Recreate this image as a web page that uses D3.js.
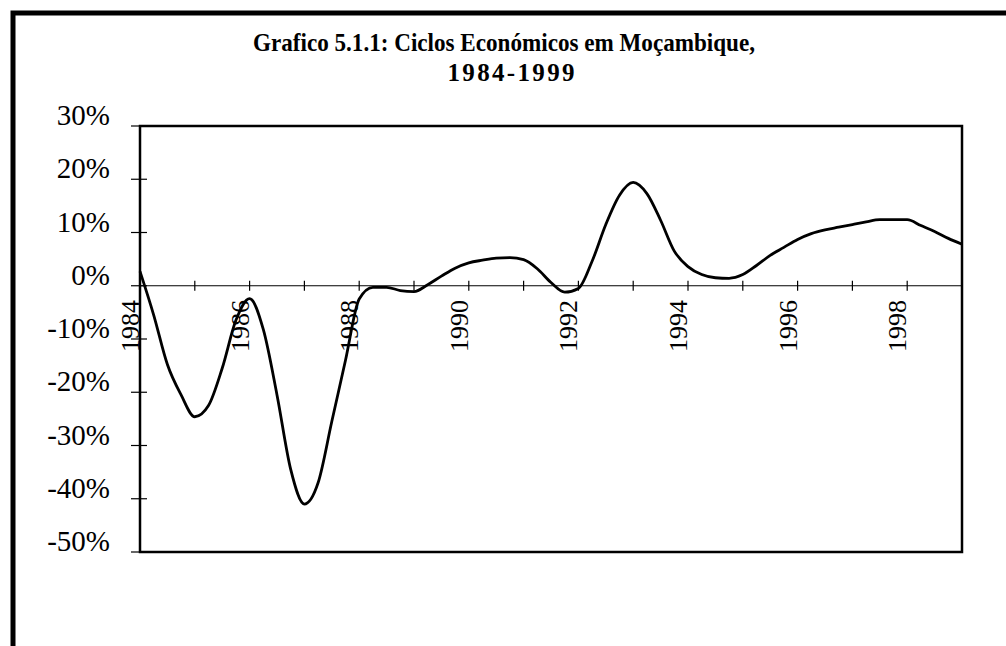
<!DOCTYPE html>
<html>
<head>
<meta charset="utf-8">
<script src="https://cdn.jsdelivr.net/npm/d3@7"></script>
<style>
  body { margin: 0; background: #fff; }
  svg { display: block; }
  svg text { font-family: "Liberation Serif", "DejaVu Serif", serif; }
</style>
</head>
<body>
<div id="chart"></div>
<script>
// quarterly cycle values (%), 1984Q1 .. 1999Q1
const cycleValues = [
  2.7, -5.5, -14.8, -20.5, -24.6, -22.5, -15.5, -6.5,
  -2.4, -8.2, -20.5, -34.5, -41.0, -37.0, -25.5, -14.0,
  -2.5, -0.3, -0.3, -0.9, -1.1, 0.2, 1.8, 3.3,
  4.3, 4.8, 5.2, 5.3, 4.9, 3.2, 0.6, -1.2,
  -0.5, 4.6, 11.5, 17.0, 19.4, 17.3, 12.3, 6.5,
  3.6, 2.1, 1.5, 1.4, 2.1, 3.8, 5.7, 7.2,
  8.7, 9.8, 10.5, 11.0, 11.5, 12.0, 12.4, 12.4,
  12.4, 11.3, 10.2, 8.9, 7.8
];
const startYear = 1984;
const endYear = 1999;
const yearLabels = [1984, 1986, 1988, 1990, 1992, 1994, 1996, 1998];
const yTicks = [30, 20, 10, 0, -10, -20, -30, -40, -50];
const titleLines = ["Grafico 5.1.1: Ciclos Económicos em Moçambique,", "1984-1999"];

const width = 1006, height = 646;
const plot = {left: 140, right: 962, top: 126, bottom: 552};
const serif = '"Liberation Serif", "DejaVu Serif", serif';

const svg = d3.select('#chart').append('svg')
  .attr('width', width)
  .attr('height', height);

// outer frame
svg.append('rect')
  .attr('x', 13).attr('y', 13)
  .attr('width', 1100).attr('height', 800)
  .attr('fill', 'none')
  .attr('stroke', '#000')
  .attr('stroke-width', 5);

// title
svg.append('text')
  .attr('x', 504).attr('y', 51)
  .attr('text-anchor', 'middle')
  .attr('font-family', serif)
  .attr('font-weight', 'bold')
  .attr('font-size', 26)
  .attr('textLength', 502)
  .attr('lengthAdjust', 'spacingAndGlyphs')
  .text(titleLines[0]);
svg.append('text')
  .attr('x', 511).attr('y', 81)
  .attr('text-anchor', 'middle')
  .attr('font-family', serif)
  .attr('font-weight', 'bold')
  .attr('font-size', 25)
  .attr('textLength', 127)
  .attr('lengthAdjust', 'spacing')
  .text(titleLines[1]);

const x = d3.scaleLinear().domain([startYear, endYear]).range([plot.left, plot.right]);
const y = d3.scaleLinear().domain([-50, 30]).range([plot.bottom, plot.top]);

// y axis labels and ticks
const yAxis = svg.append('g');
yAxis.selectAll('line')
  .data(yTicks)
  .join('line')
  .attr('x1', plot.left - 9).attr('x2', plot.left + 7)
  .attr('y1', d => y(d)).attr('y2', d => y(d))
  .attr('stroke', '#000')
  .attr('stroke-width', 1.2);
yAxis.selectAll('text')
  .data(yTicks)
  .join('text')
  .attr('x', 110)
  .attr('y', d => y(d) - 1)
  .attr('text-anchor', 'end')
  .attr('font-family', serif)
  .attr('font-size', 29)
  .text(d => d + '%');

// zero line with year ticks
svg.append('line')
  .attr('x1', plot.left).attr('x2', plot.right)
  .attr('y1', y(0)).attr('y2', y(0))
  .attr('stroke', '#000')
  .attr('stroke-width', 1.2);
svg.append('g').selectAll('line')
  .data(d3.range(startYear + 1, endYear))
  .join('line')
  .attr('x1', d => x(d)).attr('x2', d => x(d))
  .attr('y1', y(0) - 5).attr('y2', y(0) + 5)
  .attr('stroke', '#000')
  .attr('stroke-width', 1.2);

// plot frame
svg.append('rect')
  .attr('x', plot.left).attr('y', plot.top)
  .attr('width', plot.right - plot.left)
  .attr('height', plot.bottom - plot.top)
  .attr('fill', 'none')
  .attr('stroke', '#000')
  .attr('stroke-width', 2.5);

// year labels, rotated
svg.append('g').selectAll('text')
  .data(yearLabels)
  .join('text')
  .attr('transform', d => `translate(${x(d) - 1}, 300) rotate(-90)`)
  .attr('text-anchor', 'end')
  .attr('font-family', serif)
  .attr('font-size', 26)
  .text(d => d);

// the cycle line
const line = d3.line()
  .x((d, i) => x(startYear + i / 4))
  .y(d => y(d))
  .curve(d3.curveMonotoneX);

svg.append('path')
  .datum(cycleValues)
  .attr('d', line)
  .attr('fill', 'none')
  .attr('stroke', '#000')
  .attr('stroke-width', 2.8)
  .attr('stroke-linejoin', 'round');
</script>
</body>
</html>
